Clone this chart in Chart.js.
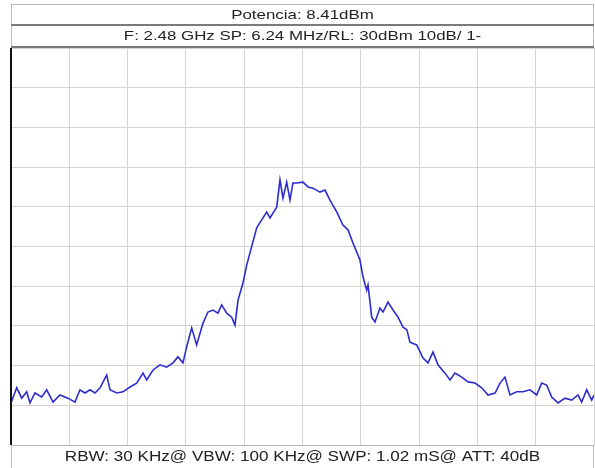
<!DOCTYPE html>
<html>
<head>
<meta charset="utf-8">
<script src="https://cdn.jsdelivr.net/npm/chart.js@4"></script>
<style>
  body { margin: 0; background: #ffffff; }
  #wrap { width: 595px; height: 468px; }
</style>
</head>
<body>
<div id="wrap"><canvas id="espectro" width="595" height="468"></canvas></div>
<script>
// textos do analisador
const tituloPotencia = "Potencia: 8.41dBm";
const tituloConfig = "F: 2.48 GHz SP: 6.24 MHz/RL: 30dBm 10dB/ 1-";
const rodape = "RBW: 30 KHz@ VBW: 100 KHz@ SWP: 1.02 mS@ ATT: 40dB";

// offset de frequencia em MHz (centro 2.48 GHz, span 6.24 MHz)
const freqOffset = [
  -3.12, -3.059, -3.005, -2.952, -2.917, -2.863, -2.791, -2.738, -2.670, -2.596,
  -2.510, -2.435, -2.382, -2.328, -2.274, -2.221, -2.167, -2.096, -2.060, -1.989,
  -1.921, -1.846, -1.775, -1.707, -1.668, -1.600, -1.525, -1.454, -1.386, -1.333,
  -1.279, -1.240, -1.186, -1.133, -1.065, -1.012, -0.958, -0.905, -0.865, -0.811,
  -0.758, -0.723, -0.690, -0.637, -0.597, -0.562, -0.490, -0.437, -0.383, -0.348,
  -0.276, -0.241, -0.209, -0.169, -0.134, -0.102, -0.062, 0.005, 0.059, 0.112,
  0.187, 0.241, 0.294, 0.366, 0.433, 0.487, 0.540, 0.615, 0.648, 0.687,
  0.701, 0.741, 0.776, 0.829, 0.862, 0.915, 0.969, 1.022, 1.076, 1.118,
  1.150, 1.222, 1.290, 1.343, 1.397, 1.450, 1.525, 1.579, 1.632, 1.704,
  1.772, 1.847, 1.918, 1.986, 2.061, 2.114, 2.167, 2.221, 2.292, 2.360,
  2.435, 2.506, 2.560, 2.613, 2.667, 2.735, 2.810, 2.881, 2.949, 2.988,
  3.042, 3.095, 3.12
];

// nivel em dBm
const nivelDbm = [
  -59.4, -55.6, -58.2, -56.6, -59.4, -56.9, -57.9, -56.1, -59.2, -57.4,
  -58.2, -59.2, -56.1, -56.9, -56.1, -56.9, -55.6, -52.4, -56.1, -56.9,
  -56.6, -55.4, -54.4, -51.9, -53.6, -51.1, -49.8, -50.4, -49.3, -47.8,
  -49.3, -45.3, -40.5, -44.8, -39.3, -36.5, -36.0, -36.8, -34.7, -36.8,
  -37.8, -39.8, -33.5, -29.2, -24.7, -21.6, -15.3, -13.3, -11.3, -12.8,
  -10.1, -3.2, -7.8, -3.8, -8.3, -4.0, -4.0, -3.8, -5.0, -5.3,
  -6.3, -5.8, -8.3, -11.3, -14.6, -15.8, -19.1, -23.4, -27.7, -31.0,
  -29.7, -37.8, -39.0, -35.5, -36.5, -34.0, -36.0, -37.8, -40.3, -41.0,
  -44.1, -44.8, -48.1, -49.3, -46.6, -49.8, -51.9, -53.6, -51.9, -52.9,
  -54.1, -54.4, -55.6, -57.4, -56.9, -54.4, -52.9, -57.4, -56.6, -56.6,
  -56.1, -57.4, -54.4, -54.9, -57.9, -59.4, -58.2, -58.7, -57.4, -59.2,
  -56.1, -58.7, -57.4
];

const refLevel = 30;
const dbPorDiv = 10;
const spanMHz = 6.24;

const pontos = freqOffset.map((f, i) => ({ x: f, y: nivelDbm[i] }));

// texto um pouco esticado na horizontal, como na captura original
function textoEsticado(ctx, txt, cx, cy, esticar) {
  ctx.save();
  ctx.translate(cx, cy);
  ctx.scale(esticar, 1);
  ctx.fillText(txt, 0, 0);
  ctx.restore();
}

// caixas de texto acima e abaixo do grafico
const caixasTexto = {
  id: "caixasTexto",
  afterDraw(chart) {
    const ctx = chart.ctx;
    const area = chart.chartArea;
    const esq = area.left;
    const dir = area.right;
    ctx.save();

    ctx.fillStyle = "#ffffff";
    ctx.fillRect(esq, 4, dir - esq, area.top - 4);
    ctx.fillRect(esq, area.bottom + 1, dir - esq, 468 - area.bottom);

    ctx.strokeStyle = "#b8b8b8";
    ctx.lineWidth = 1;
    ctx.strokeRect(esq + 0.5, 4.5, dir - esq - 1, area.top - 5);
    ctx.strokeRect(esq + 0.5, area.bottom + 0.5, dir - esq - 1, 30);

    ctx.strokeStyle = "#7a7a7a";
    ctx.lineWidth = 2;
    ctx.beginPath();
    ctx.moveTo(esq, 25);
    ctx.lineTo(dir, 25);
    ctx.moveTo(esq, area.top - 1);
    ctx.lineTo(dir, area.top - 1);
    ctx.stroke();

    ctx.fillStyle = "#222222";
    ctx.textAlign = "center";
    ctx.textBaseline = "middle";
    const meio = (esq + dir) / 2;
    ctx.font = "13.5px 'Liberation Sans', Arial, sans-serif";
    textoEsticado(ctx, tituloPotencia, meio, 15, 1.25);
    textoEsticado(ctx, tituloConfig, meio, 36, 1.25);
    ctx.font = "14px 'Liberation Sans', Arial, sans-serif";
    textoEsticado(ctx, rodape, meio, area.bottom + 12, 1.22);

    ctx.strokeStyle = "#111111";
    ctx.lineWidth = 2;
    ctx.beginPath();
    ctx.moveTo(esq, area.top);
    ctx.lineTo(esq, area.bottom);
    ctx.stroke();
    ctx.restore();
  }
};

const espectroCtx = document.getElementById("espectro");

new Chart(espectroCtx, {
  type: "line",

  data: {
    datasets: [{
      data: pontos,
      borderColor: "#2b2bd0",
      borderWidth: 1.6,
      pointRadius: 0,
      tension: 0,
      fill: false
    }]
  },

  options: {
    responsive: false,
    animation: false,
    layout: {
      padding: { left: 11, right: 1, top: 48, bottom: 23 }
    },

    plugins: {
      legend: { display: false },
      tooltip: { enabled: false }
    },

    scales: {
      x: {
        type: "linear",
        min: -spanMHz / 2,
        max: spanMHz / 2,
        ticks: { display: false, stepSize: spanMHz / 10 },
        grid: { color: "#d4d4d4", drawTicks: false },
        border: { display: false }
      },

      y: {
        min: refLevel - 10 * dbPorDiv,
        max: refLevel,
        ticks: { display: false, stepSize: dbPorDiv },
        grid: { color: "#d4d4d4", drawTicks: false },
        border: { display: false }
      }
    }
  },

  plugins: [caixasTexto]
});
</script>
</body>
</html>
